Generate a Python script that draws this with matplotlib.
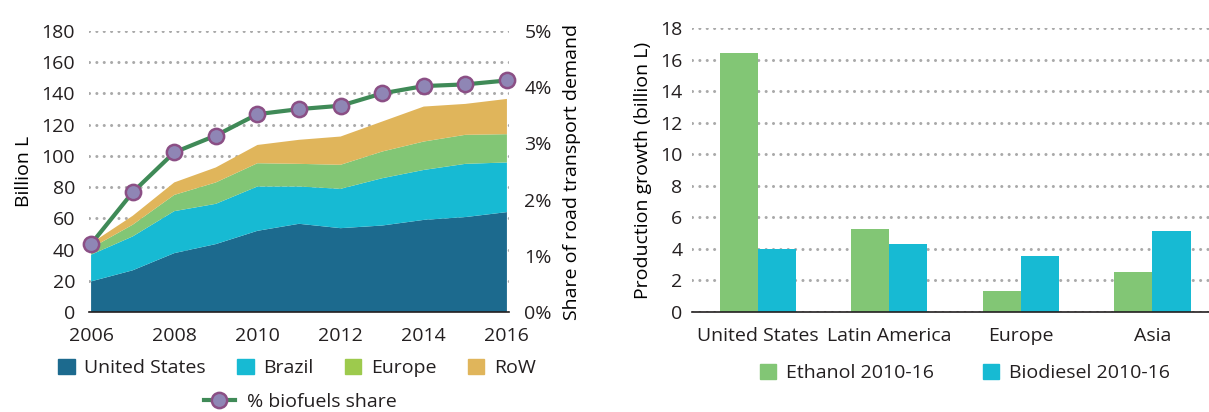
import matplotlib.pyplot as plt
from matplotlib.patches import Patch
from matplotlib.lines import Line2D
from matplotlib.ticker import FuncFormatter

plt.rcParams['font.family'] = ['Open Sans', 'DejaVu Sans']
plt.rcParams['font.size'] = 14
plt.rcParams['text.color'] = '#231f20'
plt.rcParams['xtick.color'] = '#231f20'
plt.rcParams['ytick.color'] = '#231f20'

# left panel: biofuel production by region (billion L)
years = [2006, 2007, 2008, 2009, 2010, 2011, 2012, 2013, 2014, 2015, 2016]
us = [19.6, 26.7, 37.7, 43.5, 52.0, 56.5, 53.7, 55.4, 59.0, 60.8, 64.0]
brazil = [17.1, 21.7, 26.9, 25.8, 28.4, 23.9, 25.2, 30.3, 32.0, 34.1, 31.8]
europe = [4.3, 7.5, 10.4, 13.7, 14.9, 14.5, 15.4, 17.1, 18.2, 18.6, 18.1]
row = [3.0, 5.7, 8.0, 9.6, 11.7, 15.4, 18.1, 19.2, 22.4, 19.8, 22.6]
share = [1.21, 2.13, 2.84, 3.14, 3.52, 3.61, 3.67, 3.89, 4.02, 4.05, 4.12]

# right panel: production growth 2010-16 (billion L)
regions = ['United States', 'Latin America', 'Europe', 'Asia']
ethanol = [16.4, 5.28, 1.35, 2.51]
biodiesel = [4.0, 4.31, 3.57, 5.16]

c_us = '#1c6a8e'
c_br = '#17bad3'
c_eu = '#82c675'
c_row = '#e0b55b'
grid_kw = dict(color='#a9a9a9', linestyle=(0, (0.01, 2.4)), linewidth=2.2,
               dash_capstyle='round')

fig = plt.figure(figsize=(12.09, 4.12), dpi=100)

ax = fig.add_axes([89/1209, 1-312/412, 420/1209, 281/412])
ax.stackplot(years, us, brazil, europe, row,
             colors=[c_us, c_br, c_eu, c_row], linewidth=0)
ax.set_xlim(2005.95, 2016.05)
ax.set_ylim(0, 180)
ax.set_yticks(range(0, 181, 20))
ax.set_xticks(range(2006, 2017, 2))
ax.set_axisbelow(True)
ax.yaxis.grid(True, **grid_kw)
for s in ['top', 'left', 'right']:
    ax.spines[s].set_visible(False)
ax.spines['bottom'].set_color('#231f20')
ax.spines['bottom'].set_linewidth(1.2)
ax.tick_params(length=0)
ax.tick_params(axis='y', pad=10)
ax.tick_params(axis='x', pad=11)
ax.set_ylabel('Billion L', labelpad=6)

ax2 = ax.twinx()
ax2.plot(years, share, color='#3f8a57', linewidth=3, marker='o',
         markersize=11, markerfacecolor='#8f86b5', markeredgecolor='#8b4f85',
         markeredgewidth=1.8, clip_on=False)
ax2.set_ylim(0, 5)
ax2.set_yticks(range(0, 6))
ax2.yaxis.set_major_formatter(FuncFormatter(lambda v, p: f'{v:.0f}%'))
for s in ax2.spines.values():
    s.set_visible(False)
ax2.tick_params(length=0, pad=11)
ax2.set_ylabel('Share of road transport demand', labelpad=8)

h1 = [Patch(color=c_us, label='United States'),
      Patch(color=c_br, label='Brazil'),
      Patch(color='#9dca4d', label='Europe'),
      Patch(color=c_row, label='RoW')]
fig.legend(handles=h1, loc='center', bbox_to_anchor=(297/1209, 1-368/412),
           ncol=4, frameon=False, handlelength=0.85, handleheight=0.85,
           handletextpad=0.5, columnspacing=1.6, borderaxespad=0)
h2 = [Line2D([], [], color='#3f8a57', linewidth=3, marker='o', markersize=11,
             markerfacecolor='#8f86b5', markeredgecolor='#8b4f85',
             markeredgewidth=1.8, label='% biofuels share')]
fig.legend(handles=h2, loc='center', bbox_to_anchor=(300/1209, 1-402/412),
           frameon=False, handlelength=1.6, handletextpad=0.6, borderaxespad=0)

# right panel
bx = fig.add_axes([692/1209, 1-312/412, 517/1209, 284/412])
xpos = list(range(len(regions)))
w = 0.29
bx.bar([x - w/2 for x in xpos], ethanol, width=w, color=c_eu)
bx.bar([x + w/2 for x in xpos], biodiesel, width=w, color=c_br)
bx.set_xlim(-0.5, 3.43)
bx.set_ylim(0, 18)
bx.set_yticks(range(0, 19, 2))
bx.set_xticks(xpos)
bx.set_xticklabels(regions)
bx.set_axisbelow(True)
bx.yaxis.grid(True, **grid_kw)
for s in ['top', 'left', 'right']:
    bx.spines[s].set_visible(False)
bx.spines['bottom'].set_color('#231f20')
bx.spines['bottom'].set_linewidth(1.2)
bx.tick_params(length=0)
bx.tick_params(axis='y', pad=7)
bx.tick_params(axis='x', pad=11)
bx.set_ylabel('Production growth (billion L)', labelpad=6)

h3 = [Patch(color=c_eu, label='Ethanol 2010-16'),
      Patch(color=c_br, label='Biodiesel 2010-16')]
fig.legend(handles=h3, loc='center', bbox_to_anchor=(965/1209, 1-373/412),
           ncol=2, frameon=False, handlelength=0.85, handleheight=0.85,
           handletextpad=0.5, columnspacing=2.5, borderaxespad=0)

fig.savefig('out.png', dpi=100)
